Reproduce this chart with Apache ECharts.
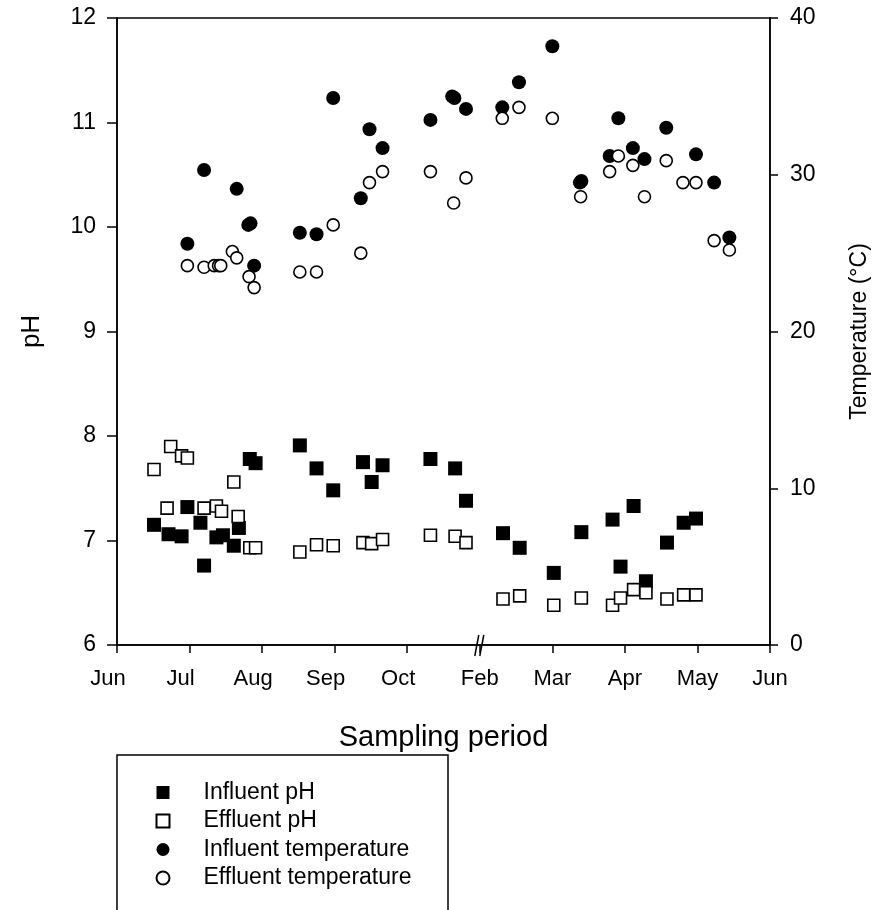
<!DOCTYPE html>
<html>
<head>
<meta charset="utf-8">
<script src="https://cdn.jsdelivr.net/npm/echarts@6/dist/echarts.min.js"></script>
<style>
html,body{margin:0;padding:0;background:#fff;}
#c{width:881px;height:910px;}
</style>
</head>
<body>
<div id="c"></div>
<script>
// Month tick labels (x = month index along the broken time axis)
const monthLabels = ['Jun','Jul','Aug','Sep','Oct','Feb','Mar','Apr','May','Jun'];

// Influent pH
const influentPhX = [0.51,0.71,0.89,0.97,1.15,1.20,1.37,1.46,1.61,1.68,1.83,1.91,2.52,2.75,2.98,3.39,3.51,3.66,4.32,4.66,4.81,5.32,5.55,6.02,6.40,6.83,6.94,7.12,7.29,7.58,7.81,7.98];
const influentPhY = [7.15,7.06,7.04,7.32,7.17,6.76,7.03,7.05,6.95,7.12,7.78,7.74,7.91,7.69,7.48,7.75,7.56,7.72,7.78,7.69,7.38,7.07,6.93,6.69,7.08,7.20,6.75,7.33,6.61,6.98,7.17,7.21];

// Effluent pH
const effluentPhX = [0.51,0.69,0.74,0.89,0.97,1.20,1.37,1.44,1.61,1.67,1.83,1.91,2.52,2.75,2.98,3.39,3.51,3.66,4.32,4.66,4.81,5.32,5.55,6.02,6.40,6.83,6.94,7.12,7.29,7.58,7.81,7.98];
const effluentPhY = [7.68,7.31,7.90,7.81,7.79,7.31,7.33,7.28,7.56,7.23,6.93,6.93,6.89,6.96,6.95,6.98,6.97,7.01,7.05,7.04,6.98,6.44,6.47,6.38,6.45,6.38,6.45,6.53,6.50,6.44,6.48,6.48];

// Influent temperature (°C)
const influentTempX = [0.97,1.20,1.65,1.81,1.84,1.89,2.52,2.75,2.98,3.36,3.48,3.66,4.32,4.62,4.65,4.81,5.31,5.54,6.00,6.38,6.40,6.79,6.91,7.11,7.27,7.57,7.98,8.23,8.44];
const influentTempY = [25.6,30.3,29.1,26.8,26.9,24.2,26.3,26.2,34.9,28.5,32.9,31.7,33.5,35.0,34.9,34.2,34.3,35.9,38.2,29.5,29.6,31.2,33.6,31.7,31.0,33.0,31.3,29.5,26.0];

// Effluent temperature (°C)
const effluentTempX = [0.97,1.20,1.34,1.40,1.43,1.59,1.65,1.82,1.89,2.52,2.75,2.98,3.36,3.48,3.66,4.32,4.64,4.81,5.31,5.54,6.00,6.39,6.79,6.91,7.11,7.27,7.57,7.80,7.98,8.23,8.44];
const effluentTempY = [24.2,24.1,24.2,24.2,24.2,25.1,24.7,23.5,22.8,23.8,23.8,26.8,25.0,29.5,30.2,30.2,28.2,29.8,33.6,34.3,33.6,28.6,30.2,31.2,30.6,28.6,30.9,29.5,29.5,25.8,25.2];

const zip = (xs, ys) => xs.map((x, i) => [x, ys[i]]);

const FONT = "'Liberation Sans', Arial, sans-serif";
const chart = echarts.init(document.getElementById('c'), null, {renderer: 'canvas'});

const option = {
  animation: false,
  backgroundColor: '#fff',
  textStyle: {fontFamily: FONT, color: '#000'},
  grid: {left: 117, right: 111, top: 18, bottom: 265, outerBoundsMode: 'none', containLabel: false,
         show: true, borderColor: '#000', borderWidth: 1.5, backgroundColor: 'transparent'},
  legend: {
    orient: 'vertical',
    left: 155.5,
    top: 781,
    padding: 0,
    itemWidth: 13,
    itemHeight: 13,
    itemGap: 5.5,
    textStyle: {fontFamily: FONT, fontSize: 23, lineHeight: 22, color: '#000', padding: [0, 0, 0, 29]},
    data: ['Influent pH', 'Effluent pH', 'Influent temperature', 'Effluent temperature']
  },
  xAxis: {
    type: 'value', min: 0, max: 9, interval: 1,
    name: 'Sampling period', nameLocation: 'middle', nameGap: 78,
    nameTextStyle: {fontFamily: FONT, fontSize: 29, color: '#000'},
    axisLine: {lineStyle: {color: '#000', width: 1.5}},
    axisTick: {inside: false, length: 8, lineStyle: {color: '#000', width: 1.5}},
    splitLine: {show: false},
    axisLabel: {
      margin: 23, fontFamily: FONT, fontSize: 22, color: '#000',
      formatter: v => {
        const t = monthLabels[Math.round(v)] || '';
        return v <= 4 ? '{l|' + t + '}' : '{c|' + t + '}';
      },
      rich: {
        l: {fontFamily: FONT, fontSize: 22, color: '#000', padding: [0, 18, 0, 0]},
        c: {fontFamily: FONT, fontSize: 22, color: '#000'}
      }
    }
  },
  yAxis: [
    {
      type: 'value', min: 6, max: 12, interval: 1, position: 'left',
      name: 'pH', nameLocation: 'middle', nameGap: 72, nameRotate: 90,
      nameTextStyle: {fontFamily: FONT, fontSize: 26, color: '#000'},
      axisLine: {show: true, lineStyle: {color: '#000', width: 1.5}},
      axisTick: {show: true, inside: false, length: 10, lineStyle: {color: '#000', width: 1.5}},
      splitLine: {show: false},
      axisLabel: {margin: 21, fontFamily: FONT, fontSize: 23, color: '#000'}
    },
    {
      type: 'value', min: 0, max: 40, interval: 10, position: 'right',
      name: 'Temperature (°C)', nameLocation: 'middle', nameGap: 78, nameRotate: 90,
      nameTextStyle: {fontFamily: FONT, fontSize: 23, color: '#000'},
      axisLine: {show: true, lineStyle: {color: '#000', width: 1.5}},
      axisTick: {show: true, inside: false, length: 8, lineStyle: {color: '#000', width: 1.5}},
      splitLine: {show: false},
      axisLabel: {margin: 20, fontFamily: FONT, fontSize: 23, color: '#000'}
    }
  ],
  series: [
    {
      name: 'Influent pH', type: 'scatter', yAxisIndex: 0, symbol: 'rect', symbolSize: 14,
      itemStyle: {color: '#000', borderColor: '#000', borderWidth: 0, opacity: 1},
      data: zip(influentPhX, influentPhY), z: 3
    },
    {
      name: 'Effluent pH', type: 'scatter', yAxisIndex: 0, symbol: 'rect', symbolSize: 12,
      itemStyle: {color: '#fff', borderColor: '#000', borderWidth: 1.6, opacity: 1},
      data: zip(effluentPhX, effluentPhY), z: 3
    },
    {
      name: 'Influent temperature', type: 'scatter', yAxisIndex: 1, symbol: 'circle', symbolSize: 14,
      itemStyle: {color: '#000', borderColor: '#000', borderWidth: 0, opacity: 1},
      data: zip(influentTempX, influentTempY), z: 3
    },
    {
      name: 'Effluent temperature', type: 'scatter', yAxisIndex: 1, symbol: 'circle', symbolSize: 12,
      itemStyle: {color: '#fff', borderColor: '#000', borderWidth: 1.6, opacity: 1},
      data: zip(effluentTempX, effluentTempY), z: 3
    }
  ]
};
chart.setOption(option);

// decorations: axis break mark at Feb and the legend frame
const brk = chart.convertToPixel({xAxisIndex: 0, yAxisIndex: 0}, [5, 6]);
const bx = brk[0], by = brk[1];
chart.setOption({
  graphic: [
    {type: 'line', shape: {x1: bx - 5, y1: by + 11, x2: bx - 1, y2: by - 10}, style: {stroke: '#000', lineWidth: 1.5}, z: 10},
    {type: 'line', shape: {x1: bx, y1: by + 11, x2: bx + 4, y2: by - 10}, style: {stroke: '#000', lineWidth: 1.5}, z: 10},
    {type: 'polyline', shape: {points: [[117, 915], [117, 755], [448, 755], [448, 915]]}, style: {stroke: '#000', lineWidth: 1.5, fill: null}, z: 10}
  ]
});
</script>
</body>
</html>
